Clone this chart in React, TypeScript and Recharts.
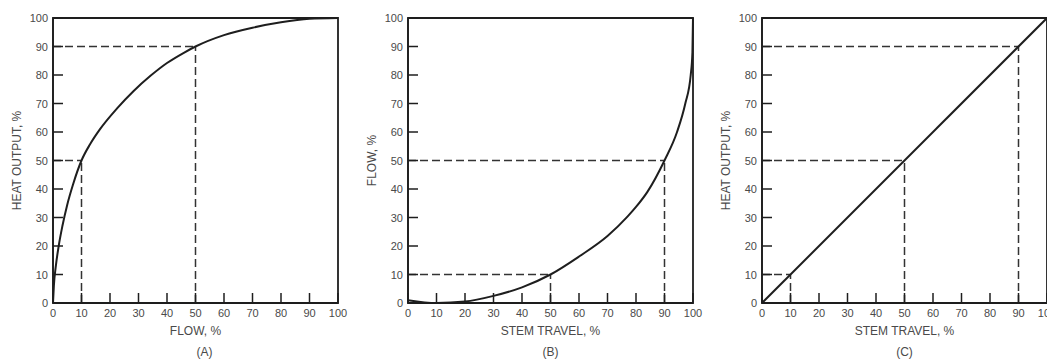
import React from "react";
import {
  LineChart,
  Line,
  XAxis,
  YAxis,
  ReferenceLine,
  ReferenceArea,
} from "recharts";

// (A) heat output vs flow
const flowA = [0, 0.3, 1, 2, 3.3, 5, 7, 10, 13, 16.5, 22.4, 28.3, 34.2, 40, 45.9, 50, 60, 70, 80, 90, 100];
const heatA = [0, 6, 13, 20, 27, 34.5, 41.5, 50, 55.7, 61, 68.2, 74.4, 79.7, 84.2, 87.8, 90, 94, 96.6, 98.5, 99.7, 100];

// (B) flow vs stem travel
const stemB = [0, 10, 20, 30, 40, 50, 60, 70, 77, 80, 84, 90, 94.4, 97.3, 99.2, 99.8, 100];
const flowB = [1, 0, 0.5, 2.5, 5.5, 10, 16.3, 23.5, 30.3, 33.7, 39, 50, 60, 70, 80, 88, 100];

// (C) heat output vs stem travel
const stemC = [0, 100];
const heatC = [0, 100];

const ticks = [0, 10, 20, 30, 40, 50, 60, 70, 80, 90, 100];

// dashed guide lines: [x, y] corners
const guidesA = [[10, 50], [50, 90]];
const guidesB = [[50, 10], [90, 50]];
const guidesC = [[10, 10], [50, 50], [90, 90]];

const ink = "#1e1e1e";
const textColor = "#4a4a4a";
const font = "'Liberation Sans', Arial, sans-serif";

const YTick = (props: any) => {
  const { x, y, payload } = props;
  const ax = x + 5;
  return (
    <g>
      <line x1={ax} x2={ax + 10} y1={y} y2={y} stroke={ink} strokeWidth={1.5} />
      <text x={x} y={y} dy={4} textAnchor="end" fontSize={11} fontFamily={font} fill={textColor}>
        {payload.value}
      </text>
    </g>
  );
};

const XTick = (props: any) => {
  const { x, y, payload } = props;
  const ay = y - 5;
  return (
    <g>
      <line x1={x} x2={x} y1={ay} y2={ay - 10} stroke={ink} strokeWidth={1.5} />
      <text x={x} y={y} dy={9} textAnchor="middle" fontSize={11} fontFamily={font} fill={textColor}>
        {payload.value}
      </text>
    </g>
  );
};

type PanelProps = {
  xs: number[];
  ys: number[];
  guides: number[][];
  xTitle: string;
  yTitle: string;
  caption: string;
  left: number;
  captionShift?: number;
};

const Panel = ({ xs, ys, guides, xTitle, yTitle, caption, left, captionShift = 0 }: PanelProps) => {
  const data = xs.map((x, i) => ({ x, y: ys[i] }));
  return (
    <div style={{ position: "absolute", left, top: 0, width: 340, height: 354 }}>
      <LineChart width={340} height={354} data={data} margin={{ top: 10, right: 10, bottom: 19, left: 0 }}>
        <XAxis
          dataKey="x"
          type="number"
          domain={[0, 100]}
          ticks={ticks}
          interval={0}
          tickSize={0}
          tickMargin={5}
          tick={<XTick />}
          axisLine={{ stroke: ink, strokeWidth: 1.5 }}
          height={40}
          label={{
            value: xTitle,
            position: "center",
            dy: 8,
            style: { fontSize: 12, fontFamily: font, fill: textColor },
          }}
        />
        <YAxis
          type="number"
          domain={[0, 100]}
          ticks={ticks}
          interval={0}
          tickSize={0}
          tickMargin={5}
          tick={<YTick />}
          axisLine={{ stroke: ink, strokeWidth: 1.5 }}
          width={45}
          label={{
            value: yTitle,
            angle: -90,
            position: "center",
            dx: -14,
            style: { fontSize: 12, fontFamily: font, fill: textColor, textAnchor: "middle" },
          }}
        />
        <ReferenceArea x1={0} x2={100} y1={0} y2={100} fill="none" stroke={ink} strokeWidth={1.8} />
        {guides.map(([gx, gy], i) => (
          <ReferenceLine
            key={"h" + i}
            segment={[{ x: 0, y: gy }, { x: gx, y: gy }]}
            stroke="#333"
            strokeWidth={1.5}
            strokeDasharray="8 4"
          />
        ))}
        {guides.map(([gx, gy], i) => (
          <ReferenceLine
            key={"v" + i}
            segment={[{ x: gx, y: 0 }, { x: gx, y: gy }]}
            stroke="#333"
            strokeWidth={1.5}
            strokeDasharray="8 4"
          />
        ))}
        <Line
          type="monotone"
          dataKey="y"
          stroke={ink}
          strokeWidth={2}
          dot={false}
          isAnimationActive={false}
        />
      </LineChart>
      <div
        style={{
          position: "absolute",
          left: 45 + captionShift,
          width: 285,
          top: 337,
          textAlign: "center",
          fontSize: 12,
          fontFamily: font,
          color: textColor,
        }}
      >
        {caption}
      </div>
    </div>
  );
};

const App: React.FC = () => {
  return (
    <div style={{ position: "relative", width: 1047, height: 354, overflow: "hidden" }}>
      <Panel xs={flowA} ys={heatA} guides={guidesA} xTitle="FLOW, %" yTitle="HEAT OUTPUT, %" caption="(A)" left={0} captionShift={9} />
      <Panel xs={stemB} ys={flowB} guides={guidesB} xTitle="STEM TRAVEL, %" yTitle="FLOW, %" caption="(B)" left={355} />
      <Panel xs={stemC} ys={heatC} guides={guidesC} xTitle="STEM TRAVEL, %" yTitle="HEAT OUTPUT, %" caption="(C)" left={709} />
    </div>
  );
};

export default App;
